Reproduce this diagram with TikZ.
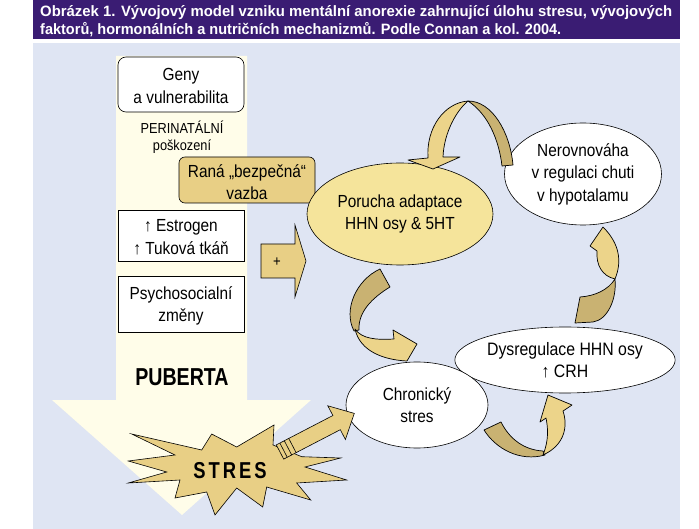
\documentclass[tikz,border=0pt]{standalone}
\usepackage{fontspec}
\setmainfont{Liberation Sans}[FakeStretch=0.88]
\newfontfamily\condbold{Liberation Sans Bold}[FakeStretch=0.80]
\newfontfamily\titlefont{Liberation Sans Bold}
\usetikzlibrary{shapes.geometric}
\definecolor{titlebg}{RGB}{58,28,115}
\definecolor{panelbg}{RGB}{223,229,243}
\definecolor{cream}{RGB}{255,253,233}
\definecolor{tanlight}{RGB}{236,212,138}
\definecolor{tandark}{RGB}{201,178,114}
\definecolor{yellowfill}{RGB}{245,228,155}
\definecolor{tanbox}{RGB}{232,207,133}
\tikzset{
  lbl/.style={inner sep=0pt, align=center, font=\fontsize{17.5}{22.5}\selectfont},
  boxw/.style={draw, fill=white, line width=0.6pt},
  ell/.style={ellipse, draw, line width=0.6pt, inner sep=0pt, align=center, font=\fontsize{17.5}{22.5}\selectfont},
  ribbon/.style={draw, line width=0.7pt, line join=round},
  ttl/.style={inner sep=0pt, anchor=base west, text=white, font=\titlefont\fontsize{15}{18}\selectfont}
}
\begin{document}
\begin{tikzpicture}[x=1pt,y=-1pt]
\useasboundingbox (0,0) rectangle (699,529);
\fill[white] (0,0) rectangle (699,529);
% title
\fill[titlebg] (33,0) rectangle (680,39);
\node[ttl] (t1) at (40,17) {\resizebox{632pt}{\height}{Obrázek 1. Vývojový model vzniku mentální anorexie zahrnující úlohu stresu, vývojových}};
\node[ttl] (t2) at (40,35) {\resizebox{521pt}{\height}{faktorů, hormonálních a nutričních mechanizmů. Podle Connan a kol. 2004.}};
% panel
\fill[panelbg] (33,43) rectangle (680,529);
% cream big arrow
\fill[cream] (116,56) -- (247,56) -- (247,400) -- (311,400) -- (182,515) -- (52,400) -- (116,400) -- cycle;
% left column boxes
\node[boxw, rounded corners=8pt, minimum width=126pt, minimum height=55pt, inner sep=0pt] (geny) at (181,84.5) {};
\node[lbl] (genyt) at (181,86) {Geny\\a vulnerabilita};
\node[lbl, font=\fontsize{14.5}{17}\selectfont] (peri) at (182,137) {PERINATÁLNÍ\\poškození};
\node[draw, fill=tanbox, line width=0.6pt, rounded corners=6pt, minimum width=136pt, minimum height=46pt, inner sep=0pt] (rana) at (247,180) {};
\node[lbl] (ranat) at (247,182) {Raná „bezpečná“\\vazba};
\node[boxw, minimum width=126pt, minimum height=51pt, inner sep=0pt] (estr) at (181,235.5) {};
\node[lbl] (estrt) at (181,237) {↑ Estrogen\\↑ Tuková tkáň};
\node[boxw, minimum width=126pt, minimum height=56pt, inner sep=0pt] (psy) at (181,304) {};
\node[lbl] (psyt) at (181,306) {Psychosocialní\\změny};
\node[inner sep=0pt, font=\condbold\fontsize{24.5}{28}\selectfont] (pub) at (182,377) {PUBERTA};
% plus arrow
\draw[fill=tanbox, line width=0.6pt, line join=miter] (261,244) -- (295,244) -- (295,225) -- (306,261) -- (295,297) -- (295,278) -- (261,278) -- cycle;
\node[inner sep=0pt, font=\fontsize{15}{18}\selectfont] (plus) at (277,262) {+};
% star
\draw[fill=tanbox, line width=0.6pt, line join=miter]
 (131.7,434) -- (201.7,450) -- (211.7,434) -- (236.7,447) -- (274,425) -- (273,445)
 -- (301.7,456.7) -- (340.7,458) -- (305,467) -- (346.7,480) -- (296.7,483) -- (310.7,500)
 -- (266.7,487) -- (262.7,507) -- (236.7,488) -- (215,515) -- (206.7,492) -- (175,498)
 -- (180,480) -- (128.3,483) -- (166.7,472) -- (128.3,461) -- (175,455) -- cycle;
\node[inner sep=0pt, font=\condbold\fontsize{23}{26}\selectfont] (stres) at (230,471) {S\hspace{3pt}T\hspace{3pt}R\hspace{3pt}E\hspace{3pt}S};
% ellipses
\node[ell, fill=yellowfill, minimum width=186pt, minimum height=102pt] (por) at (400,214) {Porucha adaptace\\HHN osy \& 5HT};
\node[ell, fill=white, minimum width=157pt, minimum height=102pt] (ner) at (583,174) {Nerovnováha\\v regulaci chuti\\v hypotalamu};
\node[ell, fill=white, minimum width=193pt, minimum height=66pt, font=\fontsize{18}{21.5}\selectfont] (dys) at (565,360) {Dysregulace HHN osy\\↑ CRH};
\node[ell, fill=white, minimum width=142pt, minimum height=86pt] (chr) at (417,405) {Chronický\\stres};
% stress arrow
\draw[fill=tanbox, line width=0.6pt, line join=miter]
 (276.3,444.9) -- (332.9,415.5) -- (327.8,405.8) -- (354.3,413.4) -- (345.4,439.5) -- (340.3,429.7) -- (283.7,459.1) -- cycle;
\foreach \t in {4,9,14} {
  \draw[line width=0.6pt] ({280+0.887*\t-3.69},{452-0.461*\t-7.10}) -- ({280+0.887*\t+3.69},{452-0.461*\t+7.10});
}
% ribbon arrows
% top: Nerovnovaha -> Porucha
\draw[ribbon, fill=tandark] (468,101) .. controls (492,101) and (510,132) .. (513,165) -- (502,166) .. controls (499,140) and (488,114) .. (468,101) -- cycle;
\draw[ribbon, fill=tanlight] (428,158) .. controls (426,128) and (444,103) .. (468,101) .. controls (457,110) and (444,132) .. (443,157) -- (460,157) -- (433,169) -- (408,160) -- cycle;
% Porucha -> Chronicky
\draw[ribbon, fill=tandark] (380,269) .. controls (356,280) and (343,310) .. (354,331) -- (359,330) .. controls (358,312) and (372,298) .. (390,287) -- cycle;
\draw[ribbon, fill=tanlight] (355,329) .. controls (362,339) and (376,340) .. (394,339) -- (393,330) -- (417,344) -- (407,361) .. controls (385,360) and (360,352) .. (355,329) -- cycle;
% Chronicky -> Dysregulace
\draw[ribbon, fill=tandark] (484,430) .. controls (496,449) and (520,462) .. (545,455) -- (543,451) .. controls (525,450) and (510,440) .. (501,422) -- cycle;
\draw[ribbon, fill=tanlight] (543,455) .. controls (549,440) and (548,428) .. (546,418) -- (540,422) -- (548,395) -- (572,405) -- (563,411) .. controls (568,426) and (565,445) .. (543,455) -- cycle;
% Dysregulace -> Nerovnovaha
\draw[ribbon, fill=tandark] (580,297) .. controls (595,296) and (608,290) .. (615,279) .. controls (617,300) and (607,320) .. (593,322) -- (575,323) -- cycle;
\draw[ribbon, fill=tanlight] (615,279) .. controls (622,262) and (620,244) .. (603,227) -- (590,246) -- (597,251) .. controls (596,265) and (602,276) .. (615,279) -- cycle;
\end{tikzpicture}
\end{document}
